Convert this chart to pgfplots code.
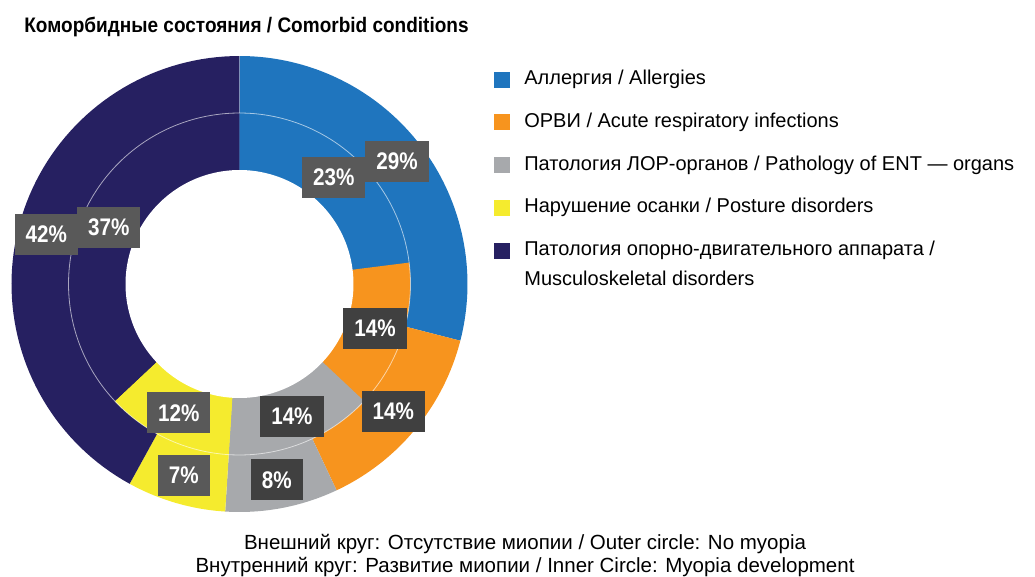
\documentclass[border=0pt]{standalone}
\usepackage{fontspec}
\setmainfont{Liberation Sans}
\newfontfamily\titlefont{Liberation Sans}[FakeStretch=0.905]
\newfontfamily\labfont{Liberation Sans}[FakeStretch=0.86]
\usepackage{pgfplots}
\usepackage{pgfplotstable}
\usepgfplotslibrary{polar}
\pgfplotsset{compat=1.18}

\definecolor{cA}{HTML}{1F75BE}
\definecolor{cO}{HTML}{F7941E}
\definecolor{cG}{HTML}{A7A9AC}
\definecolor{cY}{HTML}{F5EB2E}
\definecolor{cN}{HTML}{262061}

% outer ring = no myopia, inner ring = myopia development (percent)
% shade = darkness of the label box (black!shade)
\pgfplotstableread{
cat outer inner col shade
A   29    23    cA  65
O   14    14    cO  75
G   8     14    cG  75
Y   7     12    cY  65
N   42    37    cN  65
}\comorb
\pgfplotstablecreatecol[expr accum={\pgfmathaccuma + \thisrow{outer}}{0}]{ocum}\comorb
\pgfplotstablecreatecol[expr accum={\pgfmathaccuma + \thisrow{inner}}{0}]{icum}\comorb

\begin{document}
\begin{tikzpicture}
\begin{polaraxis}[
  at={(119.75pt,-142pt)}, anchor=origin,
  scale only axis, width=228pt, height=228pt,
  hide axis, clip=false,
  ymin=0, ymax=1,
  legsq/.style={legend image code/.code={\fill[##1] (0pt,-4pt) rectangle (8pt,4pt);}},
  legend style={at={(1.058,0.969)}, anchor=north west, draw=none, fill=none,
    inner sep=0pt, row sep=12.4pt, font=\fontsize{10}{12}\selectfont,
    nodes={inner xsep=7pt, inner ysep=0pt, text height=7pt, text depth=2pt}},
  legend cell align=left,
  legend entries={
    {Аллергия / Allergies},
    {ОРВИ / Acute respiratory infections},
    {Патология ЛОР-органов / Pathology of ENT — organs},
    {Нарушение осанки / Posture disorders},
    {\renewcommand{\arraystretch}{1.25}\begin{tabular}[t]{@{}l@{}}Патология опорно-двигательного аппарата /\\Musculoskeletal disorders\end{tabular}}
  },
  pct/.style={draw=none, mark=none, point meta=explicit symbolic,
    visualization depends on={\thisrow{shade}\as\shade},
    nodes near coords={\pgfplotspointmeta\%},
    every node near coord/.style={fill=black!\shade, text=white,
      font=\labfont\bfseries\fontsize{12}{12}\selectfont, inner xsep=5.5pt, inner ysep=0pt,
      minimum height=20.5pt, anchor=center}},
]
% legend squares
\pgfplotsforeachungrouped \i in {0,...,4}{%
  \pgfplotstablegetelem{\i}{col}\of\comorb \let\wcol\pgfplotsretval
  \edef\cmd{\noexpand\addlegendimage{legsq, fill=\wcol, draw=none}}%
  \cmd
}
% outer ring sectors
\pgfplotsforeachungrouped \i in {0,...,4}{%
  \pgfplotstablegetelem{\i}{outer}\of\comorb \let\wv\pgfplotsretval
  \pgfplotstablegetelem{\i}{ocum}\of\comorb \let\wc\pgfplotsretval
  \pgfplotstablegetelem{\i}{col}\of\comorb \let\wcol\pgfplotsretval
  \pgfmathsetmacro\angA{90-3.6*\wc}
  \pgfmathsetmacro\angB{90-3.6*(\wc-\wv)}
  \edef\cmd{\noexpand\addplot[fill=\wcol, draw=none, domain=\angA:\angB, samples=80] {1} -- (axis cs:0,0) -- cycle;}%
  \cmd
}
% inner ring sectors
\pgfplotsforeachungrouped \i in {0,...,4}{%
  \pgfplotstablegetelem{\i}{inner}\of\comorb \let\wv\pgfplotsretval
  \pgfplotstablegetelem{\i}{icum}\of\comorb \let\wc\pgfplotsretval
  \pgfplotstablegetelem{\i}{col}\of\comorb \let\wcol\pgfplotsretval
  \pgfmathsetmacro\angA{90-3.6*\wc}
  \pgfmathsetmacro\angB{90-3.6*(\wc-\wv)}
  \edef\cmd{\noexpand\addplot[fill=\wcol, draw=none, domain=\angA:\angB, samples=80] {0.75} -- (axis cs:0,0) -- cycle;}%
  \cmd
}
\addplot[draw=white, draw opacity=0.6, line width=0.4pt, domain=0:360, samples=200] {0.75};
\addplot[fill=white, draw=none, domain=0:360, samples=200] {0.5} -- cycle;
% percentage labels
\addplot[pct] table[x expr={90-3.6*(\thisrow{ocum}-0.5*\thisrow{outer})}, y expr=0.875, meta=outer] \comorb;
\addplot[pct] table[x expr={90-3.6*(\thisrow{icum}-0.5*\thisrow{inner})}, y expr=0.625, meta=inner] \comorb;
\end{polaraxis}

\begin{scope}[x=0.5pt, y=-0.5pt]
\node[anchor=base west, inner sep=0pt, font=\titlefont\bfseries\fontsize{10.5}{12}\selectfont] at (24,33) {Коморбидные состояния / Comorbid conditions};
\node[anchor=base, inner sep=0pt, font=\fontsize{10.25}{12}\selectfont] at (525,550) {Внешний круг: Отсутствие миопии / Outer circle: No myopia};
\node[anchor=base, inner sep=0pt, font=\fontsize{10.25}{12}\selectfont] at (525,573) {Внутренний круг: Развитие миопии / Inner Circle: Myopia development};
\pgfresetboundingbox
\path[use as bounding box] (0,0) rectangle (1035,577);
\end{scope}
\end{tikzpicture}
\end{document}
